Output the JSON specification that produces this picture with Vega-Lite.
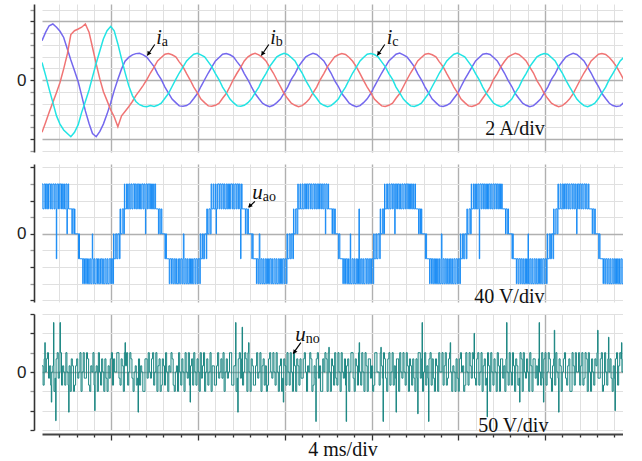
{
"$schema": "https://vega.github.io/schema/vega-lite/v6.json",
"padding": {"left": 16, "top": 0, "right": 0, "bottom": 0},
"background": "white",
"spacing": 12,
"bounds": "flush",
"config": {"view": {"stroke": null}, "axis": {"labelFont": "Liberation Sans", "labelFontSize": 17, "labelColor": "#222", "domainColor": "#333", "tickColor": "#333", "tickCount": 200}},
"datasets": {
"cur": [
{"t":0,"a":1.34,"b":-1.78,"c":0.6},{"t":0.17,"a":1.63,"b":-1.44,"c":0.15},{"t":0.33,"a":1.85,"b":-1.1,"c":-0.31},{"t":0.5,"a":1.91,"b":-0.76,"c":-0.76},{"t":0.67,"a":1.8,"b":-0.42,"c":-1.22},{"t":0.83,"a":1.66,"b":-0.08,"c":-1.5},{"t":1,"a":1.45,"b":0.38,"c":-1.7},{"t":1.17,"a":1.06,"b":0.89,"c":-1.82},{"t":1.33,"a":0.68,"b":1.55,"c":-1.93},{"t":1.5,"a":0.32,"b":1.68,"c":-1.78},{"t":1.67,"a":-0.06,"b":1.74,"c":-1.52},{"t":1.83,"a":-0.53,"b":1.8,"c":-1.1},{"t":2,"a":-1.05,"b":1.91,"c":-0.73},{"t":2.17,"a":-1.48,"b":1.63,"c":-0.34},{"t":2.33,"a":-1.82,"b":1.11,"c":0.11},{"t":2.5,"a":-1.93,"b":0.55,"c":0.57},{"t":2.67,"a":-1.75,"b":0.03,"c":1},{"t":2.83,"a":-1.5,"b":-0.39,"c":1.4},{"t":3,"a":-1.16,"b":-0.7,"c":1.68},{"t":3.17,"a":-0.77,"b":-1.02,"c":1.83},{"t":3.33,"a":-0.36,"b":-1.25,"c":1.68},{"t":3.5,"a":0.03,"b":-1.59,"c":1.23},{"t":3.67,"a":0.38,"b":-1.22,"c":0.72},{"t":3.83,"a":0.64,"b":-1.07,"c":0.26},{"t":4,"a":0.77,"b":-0.91,"c":-0.19},{"t":4.17,"a":0.86,"b":-0.73,"c":-0.53},{"t":4.33,"a":0.9,"b":-0.53,"c":-0.73},{"t":4.5,"a":0.91,"b":-0.36,"c":-0.84},{"t":4.67,"a":0.86,"b":-0.18,"c":-0.89},{"t":4.83,"a":0.78,"b":0.01,"c":-0.91},
{"t":5,"a":0.62,"b":0.24,"c":-0.87},{"t":5.17,"a":0.46,"b":0.44,"c":-0.9},{"t":5.33,"a":0.22,"b":0.65,"c":-0.86},{"t":5.5,"a":0.02,"b":0.77,"c":-0.79},{"t":5.67,"a":-0.24,"b":0.88,"c":-0.62},{"t":5.83,"a":-0.44,"b":0.9,"c":-0.46},{"t":6,"a":-0.65,"b":0.86,"c":-0.22},{"t":6.17,"a":-0.77,"b":0.79,"c":0.02},{"t":6.33,"a":-0.88,"b":0.62,"c":0.24},{"t":6.5,"a":-0.89,"b":0.46,"c":0.44},{"t":6.67,"a":-0.87,"b":0.22,"c":0.65},{"t":6.83,"a":-0.79,"b":0.01,"c":0.77},{"t":7,"a":-0.63,"b":-0.24,"c":0.88},{"t":7.17,"a":-0.46,"b":-0.44,"c":0.91},{"t":7.33,"a":-0.22,"b":-0.65,"c":0.86},{"t":7.5,"a":0.01,"b":-0.77,"c":0.79},{"t":7.67,"a":0.24,"b":-0.88,"c":0.62},{"t":7.83,"a":0.44,"b":-0.89,"c":0.46},{"t":8,"a":0.65,"b":-0.86,"c":0.22},{"t":8.17,"a":0.77,"b":-0.79,"c":0.01},{"t":8.33,"a":0.88,"b":-0.62,"c":-0.24},
{"t":8.5,"a":0.9,"b":-0.46,"c":-0.44},{"t":8.67,"a":0.86,"b":-0.22,"c":-0.65},{"t":8.83,"a":0.79,"b":0.02,"c":-0.77},{"t":9,"a":0.62,"b":0.24,"c":-0.88},{"t":9.17,"a":0.46,"b":0.44,"c":-0.89},{"t":9.33,"a":0.22,"b":0.65,"c":-0.86},{"t":9.5,"a":0.01,"b":0.79,"c":-0.77},{"t":9.67,"a":-0.24,"b":0.87,"c":-0.63},{"t":9.83,"a":-0.46,"b":0.91,"c":-0.44},{"t":10,"a":-0.63,"b":0.86,"c":-0.24},{"t":10.17,"a":-0.79,"b":0.77,"c":0.02},{"t":10.33,"a":-0.86,"b":0.65,"c":0.22},{"t":10.5,"a":-0.91,"b":0.44,"c":0.46},{"t":10.67,"a":-0.86,"b":0.24,"c":0.63},{"t":10.83,"a":-0.77,"b":0.01,"c":0.79},{"t":11,"a":-0.65,"b":-0.22,"c":0.86},{"t":11.17,"a":-0.44,"b":-0.46,"c":0.91},{"t":11.33,"a":-0.24,"b":-0.63,"c":0.87},{"t":11.5,"a":0.02,"b":-0.79,"c":0.77},{"t":11.67,"a":0.22,"b":-0.86,"c":0.65},{"t":11.83,"a":0.46,"b":-0.91,"c":0.44},{"t":12,"a":0.63,"b":-0.87,"c":0.24},{"t":12.17,"a":0.79,"b":-0.77,"c":-0.02},{"t":12.33,"a":0.86,"b":-0.65,"c":-0.22},
{"t":12.5,"a":0.91,"b":-0.44,"c":-0.46},{"t":12.67,"a":0.87,"b":-0.24,"c":-0.62},{"t":12.83,"a":0.77,"b":0.01,"c":-0.79},{"t":13,"a":0.65,"b":0.22,"c":-0.86},{"t":13.17,"a":0.44,"b":0.46,"c":-0.91},{"t":13.33,"a":0.24,"b":0.62,"c":-0.87},{"t":13.5,"a":-0.02,"b":0.79,"c":-0.77},{"t":13.67,"a":-0.22,"b":0.86,"c":-0.65},{"t":13.83,"a":-0.46,"b":0.9,"c":-0.44},{"t":14,"a":-0.62,"b":0.87,"c":-0.24},{"t":14.17,"a":-0.79,"b":0.77,"c":0.01},{"t":14.33,"a":-0.86,"b":0.64,"c":0.24},{"t":14.5,"a":-0.91,"b":0.45,"c":0.44},{"t":14.67,"a":-0.87,"b":0.22,"c":0.65},{"t":14.83,"a":-0.77,"b":-0.01,"c":0.77},{"t":15,"a":-0.64,"b":-0.24,"c":0.88},{"t":15.17,"a":-0.45,"b":-0.44,"c":0.9},{"t":15.33,"a":-0.22,"b":-0.65,"c":0.87},{"t":15.5,"a":0.01,"b":-0.77,"c":0.79},{"t":15.67,"a":0.24,"b":-0.88,"c":0.62},{"t":15.83,"a":0.44,"b":-0.9,"c":0.46},{"t":16,"a":0.65,"b":-0.86,"c":0.22},{"t":16.17,"a":0.77,"b":-0.79,"c":0.02},{"t":16.33,"a":0.88,"b":-0.62,"c":-0.24},
{"t":16.5,"a":0.92,"b":-0.46,"c":-0.44},{"t":16.67,"a":0.86,"b":-0.22,"c":-0.65},{"t":16.83,"a":0.79,"b":0.01,"c":-0.77},{"t":17,"a":0.63,"b":0.24,"c":-0.88},{"t":17.17,"a":0.46,"b":0.44,"c":-0.9},{"t":17.33,"a":0.22,"b":0.65,"c":-0.86},{"t":17.5,"a":0.01,"b":0.77,"c":-0.79},{"t":17.67,"a":-0.24,"b":0.88,"c":-0.62},{"t":17.83,"a":-0.44,"b":0.9,"c":-0.46},{"t":18,"a":-0.65,"b":0.86,"c":-0.22},{"t":18.17,"a":-0.77,"b":0.79,"c":0.01},{"t":18.33,"a":-0.88,"b":0.62,"c":0.24},{"t":18.5,"a":-0.9,"b":0.46,"c":0.44},{"t":18.67,"a":-0.86,"b":0.22,"c":0.65},{"t":18.83,"a":-0.79,"b":0.01,"c":0.77},{"t":19,"a":-0.62,"b":-0.24,"c":0.88},{"t":19.17,"a":-0.46,"b":-0.44,"c":0.92},{"t":19.33,"a":-0.22,"b":-0.65,"c":0.86},{"t":19.5,"a":0.02,"b":-0.77,"c":0.79},{"t":19.67,"a":0.24,"b":-0.88,"c":0.62},{"t":19.83,"a":0.44,"b":-0.9,"c":0.46},{"t":20,"a":0.65,"b":-0.86,"c":0.22},{"t":20.17,"a":0.77,"b":-0.79,"c":0.01},{"t":20.33,"a":0.88,"b":-0.62,"c":-0.24},
{"t":20.5,"a":0.9,"b":-0.44,"c":-0.46},{"t":20.67,"a":0.87,"b":-0.24,"c":-0.63},{"t":20.83,"a":0.77,"b":0.02,"c":-0.79},{"t":21,"a":0.65,"b":0.22,"c":-0.86},{"t":21.17,"a":0.44,"b":0.46,"c":-0.91},{"t":21.33,"a":0.24,"b":0.63,"c":-0.87},{"t":21.5,"a":-0.01,"b":0.79,"c":-0.77},{"t":21.67,"a":-0.22,"b":0.86,"c":-0.65},{"t":21.83,"a":-0.46,"b":0.91,"c":-0.44},{"t":22,"a":-0.63,"b":0.87,"c":-0.24},{"t":22.17,"a":-0.79,"b":0.77,"c":0.02},{"t":22.33,"a":-0.86,"b":0.65,"c":0.22},{"t":22.5,"a":-0.91,"b":0.44,"c":0.46},{"t":22.67,"a":-0.87,"b":0.24,"c":0.63},{"t":22.83,"a":-0.77,"b":-0.02,"c":0.79},{"t":23,"a":-0.65,"b":-0.22,"c":0.86},{"t":23.17,"a":-0.44,"b":-0.46,"c":0.9},{"t":23.33,"a":-0.24,"b":-0.63,"c":0.88},{"t":23.5,"a":0.02,"b":-0.79,"c":0.77},{"t":23.67,"a":0.22,"b":-0.86,"c":0.65},{"t":23.83,"a":0.46,"b":-0.91,"c":0.44},{"t":24,"a":0.63,"b":-0.87,"c":0.24},{"t":24.17,"a":0.79,"b":-0.77,"c":-0.01},{"t":24.33,"a":0.86,"b":-0.65,"c":-0.22},
{"t":24.5,"a":0.91,"b":-0.46,"c":-0.44},{"t":24.67,"a":0.87,"b":-0.22,"c":-0.65},{"t":24.83,"a":0.77,"b":0.01,"c":-0.77},{"t":25,"a":0.65,"b":0.24,"c":-0.87},{"t":25.17,"a":0.44,"b":0.44,"c":-0.91},{"t":25.33,"a":0.24,"b":0.65,"c":-0.86},{"t":25.5,"a":-0.01,"b":0.77,"c":-0.79},{"t":25.67,"a":-0.22,"b":0.88,"c":-0.63},{"t":25.83,"a":-0.46,"b":0.9,"c":-0.44},{"t":26,"a":-0.63,"b":0.87,"c":-0.24},{"t":26.17,"a":-0.79,"b":0.77,"c":0.02},{"t":26.33,"a":-0.87,"b":0.63,"c":0.22},{"t":26.5,"a":-0.9,"b":0.46,"c":0.44},{"t":26.67,"a":-0.88,"b":0.24,"c":0.65},{"t":26.83,"a":-0.77,"b":0.01,"c":0.77}
],
"uao": [
{"t":0,"v":60},{"t":0.04,"v":30},{"t":0.1,"v":60},{"t":0.16,"v":30},{"t":0.2,"v":60},{"t":0.25,"v":30},{"t":0.3,"v":60},{"t":0.37,"v":30},{"t":0.4,"v":60},{"t":0.45,"v":30},{"t":0.5,"v":60},{"t":0.56,"v":30},{"t":0.6,"v":60},{"t":0.65,"v":30},{"t":0.66,"v":-30},{"t":0.68,"v":30},{"t":0.7,"v":60},{"t":0.76,"v":30},{"t":0.8,"v":60},{"t":0.87,"v":30},{"t":0.9,"v":60},{"t":0.95,"v":30},{"t":1,"v":60},{"t":1.04,"v":30},{"t":1.1,"v":60},{"t":1.15,"v":0},{"t":1.17,"v":30},{"t":1.2,"v":60},{"t":1.23,"v":30},{"t":1.38,"v":0},{"t":1.4,"v":30},{"t":1.47,"v":0},{"t":1.5,"v":30},{"t":1.52,"v":0},{"t":1.68,"v":-30},{"t":1.7,"v":0},{"t":1.73,"v":-30},{"t":1.88,"v":-60},{"t":1.9,"v":-30},{"t":1.96,"v":-60},{"t":2,"v":-30},{"t":2.06,"v":-60},{"t":2.1,"v":-30},{"t":2.14,"v":-60},{"t":2.2,"v":-30},{"t":2.25,"v":-60},{"t":2.3,"v":-30},{"t":2.32,"v":0},{"t":2.34,"v":-30},{"t":2.36,"v":-60},{"t":2.4,"v":-30},{"t":2.44,"v":-60},{"t":2.5,"v":-30},{"t":2.56,"v":-60},{"t":2.6,"v":-30},{"t":2.64,"v":-60},{"t":2.7,"v":-30},{"t":2.76,"v":-60},{"t":2.8,"v":-30},{"t":2.83,"v":-60},{"t":2.9,"v":-30},{"t":2.95,"v":-60},{"t":3,"v":-30},{"t":3.04,"v":-60},{"t":3.1,"v":-30},{"t":3.17,"v":-60},{"t":3.2,"v":-30},{"t":3.26,"v":-60},{"t":3.3,"v":0},{"t":3.32,"v":-30},{"t":3.4,"v":0},{"t":3.45,"v":-30},{"t":3.5,"v":0},{"t":3.57,"v":-30},{"t":3.6,"v":30},{"t":3.62,"v":0},{"t":3.7,"v":30},{"t":3.77,"v":0},{"t":3.8,"v":60},{"t":3.82,"v":30},{"t":3.9,"v":60},{"t":3.94,"v":30},
{"t":4,"v":60},{"t":4.05,"v":30},{"t":4.1,"v":60},{"t":4.15,"v":30},{"t":4.2,"v":60},{"t":4.27,"v":30},{"t":4.3,"v":60},{"t":4.35,"v":30},{"t":4.4,"v":60},{"t":4.46,"v":30},{"t":4.5,"v":60},{"t":4.54,"v":30},{"t":4.6,"v":60},{"t":4.66,"v":30},{"t":4.7,"v":60},{"t":4.75,"v":30},{"t":4.77,"v":0},{"t":4.79,"v":30},{"t":4.8,"v":60},{"t":4.86,"v":30},{"t":4.9,"v":60},{"t":4.97,"v":30},{"t":5,"v":60},{"t":5.05,"v":30},{"t":5.1,"v":60},{"t":5.14,"v":30},{"t":5.2,"v":60},{"t":5.24,"v":30},{"t":5.37,"v":0},{"t":5.4,"v":30},{"t":5.45,"v":0},{"t":5.5,"v":30},{"t":5.53,"v":0},{"t":5.67,"v":-30},{"t":5.7,"v":0},{"t":5.74,"v":-30},{"t":5.87,"v":-60},{"t":5.9,"v":-30},{"t":5.97,"v":-60},{"t":6,"v":-30},{"t":6.05,"v":-60},{"t":6.1,"v":-30},{"t":6.15,"v":-60},{"t":6.2,"v":-30},{"t":6.23,"v":-60},{"t":6.3,"v":-30},{"t":6.35,"v":-60},{"t":6.4,"v":-30},{"t":6.46,"v":-60},{"t":6.5,"v":-30},{"t":6.52,"v":0},{"t":6.55,"v":-60},{"t":6.6,"v":-30},{"t":6.65,"v":-60},{"t":6.7,"v":-30},{"t":6.74,"v":-60},{"t":6.8,"v":-30},{"t":6.85,"v":-60},{"t":6.9,"v":-30},{"t":6.94,"v":-60},{"t":7,"v":-30},{"t":7.06,"v":-60},{"t":7.1,"v":-30},{"t":7.16,"v":-60},{"t":7.2,"v":-30},{"t":7.28,"v":-60},{"t":7.3,"v":0},{"t":7.33,"v":-30},{"t":7.4,"v":0},{"t":7.44,"v":-30},{"t":7.5,"v":0},{"t":7.58,"v":-30},{"t":7.6,"v":30},{"t":7.63,"v":0},{"t":7.7,"v":30},{"t":7.76,"v":0},{"t":7.8,"v":60},{"t":7.83,"v":30},{"t":7.9,"v":60},{"t":7.93,"v":30},
{"t":8,"v":60},{"t":8.03,"v":0},{"t":8.05,"v":30},{"t":8.1,"v":60},{"t":8.17,"v":30},{"t":8.2,"v":60},{"t":8.26,"v":30},{"t":8.3,"v":60},{"t":8.36,"v":30},{"t":8.4,"v":60},{"t":8.44,"v":30},{"t":8.5,"v":60},{"t":8.55,"v":30},{"t":8.6,"v":60},{"t":8.65,"v":30},{"t":8.7,"v":60},{"t":8.77,"v":30},{"t":8.8,"v":60},{"t":8.85,"v":30},{"t":8.9,"v":60},{"t":8.96,"v":30},{"t":9,"v":60},{"t":9.06,"v":30},{"t":9.1,"v":60},{"t":9.14,"v":30},{"t":9.16,"v":-30},{"t":9.18,"v":30},{"t":9.2,"v":60},{"t":9.23,"v":30},{"t":9.38,"v":0},{"t":9.4,"v":30},{"t":9.46,"v":0},{"t":9.5,"v":30},{"t":9.52,"v":0},{"t":9.68,"v":-30},{"t":9.7,"v":0},{"t":9.74,"v":-30},{"t":9.89,"v":-60},{"t":9.9,"v":-30},{"t":9.96,"v":-60},{"t":10,"v":-30},{"t":10.02,"v":0},{"t":10.05,"v":-60},{"t":10.1,"v":-30},{"t":10.15,"v":-60},{"t":10.2,"v":-30},{"t":10.24,"v":-60},{"t":10.3,"v":-30},{"t":10.35,"v":-60},{"t":10.4,"v":-30},{"t":10.45,"v":-60},{"t":10.5,"v":-30},{"t":10.56,"v":-60},{"t":10.6,"v":-30},{"t":10.64,"v":-60},{"t":10.7,"v":-30},{"t":10.75,"v":-60},{"t":10.8,"v":-30},{"t":10.84,"v":-60},{"t":10.9,"v":-30},{"t":10.95,"v":-60},{"t":11,"v":-30},{"t":11.05,"v":-60},{"t":11.1,"v":-30},{"t":11.16,"v":-60},{"t":11.2,"v":-30},{"t":11.27,"v":-60},{"t":11.3,"v":0},{"t":11.32,"v":-30},{"t":11.4,"v":0},{"t":11.45,"v":-30},{"t":11.5,"v":0},{"t":11.57,"v":-30},{"t":11.6,"v":30},{"t":11.62,"v":0},{"t":11.7,"v":30},{"t":11.76,"v":0},{"t":11.8,"v":60},{"t":11.82,"v":30},{"t":11.9,"v":60},{"t":11.93,"v":30},
{"t":12,"v":60},{"t":12.04,"v":30},{"t":12.1,"v":60},{"t":12.16,"v":30},{"t":12.2,"v":60},{"t":12.26,"v":30},{"t":12.3,"v":60},{"t":12.37,"v":30},{"t":12.4,"v":60},{"t":12.45,"v":30},{"t":12.5,"v":60},{"t":12.56,"v":30},{"t":12.6,"v":60},{"t":12.65,"v":30},{"t":12.7,"v":60},{"t":12.76,"v":30},{"t":12.8,"v":60},{"t":12.86,"v":30},{"t":12.9,"v":60},{"t":12.95,"v":30},{"t":13,"v":60},{"t":13.05,"v":30},{"t":13.07,"v":0},{"t":13.09,"v":30},{"t":13.1,"v":60},{"t":13.15,"v":30},{"t":13.2,"v":60},{"t":13.22,"v":30},{"t":13.38,"v":0},{"t":13.4,"v":30},{"t":13.46,"v":0},{"t":13.5,"v":30},{"t":13.53,"v":0},{"t":13.67,"v":-30},{"t":13.7,"v":0},{"t":13.74,"v":-30},{"t":13.88,"v":-60},{"t":13.9,"v":-30},{"t":13.96,"v":-60},{"t":14,"v":-30},{"t":14.06,"v":-60},{"t":14.1,"v":-30},{"t":14.14,"v":-60},{"t":14.2,"v":-30},{"t":14.22,"v":0},{"t":14.24,"v":-60},{"t":14.3,"v":-30},{"t":14.35,"v":-60},{"t":14.4,"v":-30},{"t":14.44,"v":-60},{"t":14.5,"v":-30},{"t":14.55,"v":-60},{"t":14.6,"v":-30},{"t":14.62,"v":30},{"t":14.64,"v":-60},{"t":14.7,"v":-30},{"t":14.75,"v":-60},{"t":14.8,"v":-30},{"t":14.84,"v":-60},{"t":14.9,"v":-30},{"t":14.96,"v":-60},{"t":15,"v":-30},{"t":15.05,"v":-60},{"t":15.1,"v":-30},{"t":15.16,"v":-60},{"t":15.2,"v":-30},{"t":15.27,"v":-60},{"t":15.3,"v":0},{"t":15.32,"v":-30},{"t":15.4,"v":0},{"t":15.44,"v":-30},{"t":15.5,"v":0},{"t":15.58,"v":-30},{"t":15.6,"v":30},{"t":15.62,"v":0},{"t":15.7,"v":30},{"t":15.76,"v":0},{"t":15.8,"v":60},{"t":15.82,"v":30},{"t":15.9,"v":60},{"t":15.94,"v":30},
{"t":16,"v":60},{"t":16.05,"v":30},{"t":16.1,"v":60},{"t":16.16,"v":30},{"t":16.2,"v":60},{"t":16.25,"v":30},{"t":16.27,"v":0},{"t":16.29,"v":30},{"t":16.3,"v":60},{"t":16.36,"v":30},{"t":16.4,"v":60},{"t":16.46,"v":30},{"t":16.5,"v":60},{"t":16.54,"v":30},{"t":16.6,"v":60},{"t":16.65,"v":30},{"t":16.7,"v":60},{"t":16.76,"v":30},{"t":16.8,"v":60},{"t":16.87,"v":30},{"t":16.9,"v":60},{"t":16.95,"v":30},{"t":17,"v":60},{"t":17.05,"v":30},{"t":17.1,"v":60},{"t":17.14,"v":30},{"t":17.2,"v":60},{"t":17.23,"v":30},{"t":17.37,"v":0},{"t":17.4,"v":30},{"t":17.46,"v":0},{"t":17.5,"v":30},{"t":17.52,"v":0},{"t":17.68,"v":-30},{"t":17.7,"v":0},{"t":17.74,"v":-30},{"t":17.88,"v":-60},{"t":17.9,"v":-30},{"t":17.97,"v":-60},{"t":18,"v":-30},{"t":18.05,"v":-60},{"t":18.1,"v":-30},{"t":18.15,"v":-60},{"t":18.2,"v":-30},{"t":18.24,"v":-60},{"t":18.3,"v":-30},{"t":18.34,"v":-60},{"t":18.4,"v":-30},{"t":18.42,"v":0},{"t":18.45,"v":-60},{"t":18.5,"v":-30},{"t":18.55,"v":-60},{"t":18.6,"v":-30},{"t":18.65,"v":-60},{"t":18.7,"v":-30},{"t":18.74,"v":-60},{"t":18.8,"v":-30},{"t":18.85,"v":-60},{"t":18.9,"v":-30},{"t":18.94,"v":-60},{"t":19,"v":-30},{"t":19.05,"v":-60},{"t":19.1,"v":-30},{"t":19.16,"v":-60},{"t":19.2,"v":-30},{"t":19.27,"v":-60},{"t":19.3,"v":0},{"t":19.32,"v":-30},{"t":19.4,"v":0},{"t":19.45,"v":-30},{"t":19.5,"v":0},{"t":19.57,"v":-30},{"t":19.6,"v":30},{"t":19.62,"v":0},{"t":19.7,"v":30},{"t":19.76,"v":0},{"t":19.8,"v":60},{"t":19.82,"v":30},{"t":19.9,"v":60},{"t":19.94,"v":30},
{"t":20,"v":60},{"t":20.04,"v":30},{"t":20.1,"v":60},{"t":20.15,"v":30},{"t":20.17,"v":-30},{"t":20.19,"v":30},{"t":20.2,"v":60},{"t":20.26,"v":30},{"t":20.3,"v":60},{"t":20.36,"v":30},{"t":20.4,"v":60},{"t":20.45,"v":30},{"t":20.5,"v":60},{"t":20.55,"v":30},{"t":20.6,"v":60},{"t":20.66,"v":30},{"t":20.7,"v":60},{"t":20.75,"v":30},{"t":20.8,"v":60},{"t":20.86,"v":30},{"t":20.9,"v":60},{"t":20.96,"v":30},{"t":21,"v":60},{"t":21.05,"v":30},{"t":21.1,"v":60},{"t":21.15,"v":30},{"t":21.2,"v":60},{"t":21.23,"v":30},{"t":21.38,"v":0},{"t":21.4,"v":30},{"t":21.46,"v":0},{"t":21.5,"v":30},{"t":21.52,"v":0},{"t":21.68,"v":-30},{"t":21.7,"v":0},{"t":21.74,"v":-30},{"t":21.88,"v":-60},{"t":21.9,"v":-30},{"t":21.96,"v":-60},{"t":22,"v":-30},{"t":22.06,"v":-60},{"t":22.1,"v":-30},{"t":22.15,"v":-60},{"t":22.2,"v":-30},{"t":22.24,"v":-60},{"t":22.3,"v":-30},{"t":22.35,"v":-60},{"t":22.4,"v":-30},{"t":22.42,"v":0},{"t":22.44,"v":-60},{"t":22.5,"v":-30},{"t":22.55,"v":-60},{"t":22.6,"v":-30},{"t":22.64,"v":-60},{"t":22.7,"v":-30},{"t":22.75,"v":-60},{"t":22.8,"v":-30},{"t":22.84,"v":-60},{"t":22.9,"v":-30},{"t":22.95,"v":-60},{"t":23,"v":-30},{"t":23.05,"v":-60},{"t":23.1,"v":-30},{"t":23.16,"v":-60},{"t":23.2,"v":-30},{"t":23.27,"v":-60},{"t":23.3,"v":0},{"t":23.32,"v":-30},{"t":23.4,"v":0},{"t":23.45,"v":-30},{"t":23.5,"v":0},{"t":23.57,"v":-30},{"t":23.6,"v":30},{"t":23.62,"v":0},{"t":23.7,"v":30},{"t":23.76,"v":0},{"t":23.8,"v":60},{"t":23.82,"v":30},{"t":23.9,"v":60},{"t":23.94,"v":30},
{"t":24,"v":60},{"t":24.05,"v":30},{"t":24.1,"v":60},{"t":24.16,"v":30},{"t":24.2,"v":60},{"t":24.26,"v":30},{"t":24.3,"v":60},{"t":24.35,"v":30},{"t":24.4,"v":60},{"t":24.46,"v":30},{"t":24.5,"v":60},{"t":24.55,"v":30},{"t":24.6,"v":60},{"t":24.64,"v":30},{"t":24.66,"v":0},{"t":24.68,"v":30},{"t":24.7,"v":60},{"t":24.76,"v":30},{"t":24.8,"v":60},{"t":24.86,"v":30},{"t":24.9,"v":60},{"t":24.95,"v":30},{"t":25,"v":60},{"t":25.06,"v":30},{"t":25.1,"v":60},{"t":25.14,"v":30},{"t":25.2,"v":60},{"t":25.23,"v":30},{"t":25.38,"v":0},{"t":25.4,"v":30},{"t":25.46,"v":0},{"t":25.5,"v":30},{"t":25.52,"v":0},{"t":25.68,"v":-30},{"t":25.7,"v":0},{"t":25.74,"v":-30},{"t":25.88,"v":-60},{"t":25.9,"v":-30},{"t":25.96,"v":-60},{"t":26,"v":-30},{"t":26.06,"v":-60},{"t":26.1,"v":-30},{"t":26.15,"v":-60},{"t":26.2,"v":-30},{"t":26.24,"v":-60},{"t":26.3,"v":-30},{"t":26.35,"v":-60},{"t":26.4,"v":-30},{"t":26.45,"v":-60},{"t":26.5,"v":-30},{"t":26.55,"v":-60},{"t":26.6,"v":-30},{"t":26.64,"v":-60},{"t":26.7,"v":-30},{"t":26.75,"v":-60},{"t":26.8,"v":-30}
],
"uno": [
{"t":0,"v":8},{"t":0.05,"v":-17},{"t":0.1,"v":17},{"t":0.13,"v":38},{"t":0.15,"v":0},{"t":0.2,"v":17},{"t":0.25,"v":25},{"t":0.3,"v":-8},{"t":0.35,"v":8},{"t":0.4,"v":-17},{"t":0.43,"v":-39},{"t":0.45,"v":0},{"t":0.5,"v":8},{"t":0.53,"v":64},{"t":0.55,"v":-25},{"t":0.6,"v":-8},{"t":0.63,"v":-63},{"t":0.65,"v":17},{"t":0.7,"v":25},{"t":0.75,"v":-8},{"t":0.8,"v":0},{"t":0.83,"v":64},{"t":0.85,"v":25},{"t":0.9,"v":-17},{"t":0.95,"v":8},
{"t":1,"v":0},{"t":1.05,"v":-17},{"t":1.1,"v":25},{"t":1.15,"v":0},{"t":1.2,"v":-17},{"t":1.23,"v":-52},{"t":1.25,"v":8},{"t":1.3,"v":-25},{"t":1.35,"v":17},{"t":1.4,"v":8},{"t":1.45,"v":-25},{"t":1.5,"v":-17},{"t":1.55,"v":8},{"t":1.6,"v":17},{"t":1.65,"v":-8},{"t":1.7,"v":0},{"t":1.75,"v":25},{"t":1.8,"v":-25},{"t":1.85,"v":0},{"t":1.9,"v":25},{"t":1.95,"v":-8},
{"t":2,"v":-8},{"t":2.05,"v":25},{"t":2.1,"v":17},{"t":2.15,"v":-17},{"t":2.2,"v":-25},{"t":2.25,"v":8},{"t":2.3,"v":0},{"t":2.35,"v":25},{"t":2.4,"v":-17},{"t":2.43,"v":-50},{"t":2.45,"v":0},{"t":2.5,"v":8},{"t":2.55,"v":-25},{"t":2.6,"v":25},{"t":2.65,"v":0},{"t":2.7,"v":-17},{"t":2.75,"v":17},{"t":2.8,"v":0},{"t":2.85,"v":-25},{"t":2.9,"v":17},{"t":2.95,"v":-8},
{"t":3,"v":-25},{"t":3.05,"v":8},{"t":3.1,"v":-8},{"t":3.15,"v":17},{"t":3.2,"v":25},{"t":3.25,"v":-17},{"t":3.3,"v":17},{"t":3.35,"v":0},{"t":3.4,"v":0},{"t":3.45,"v":25},{"t":3.5,"v":25},{"t":3.55,"v":-8},{"t":3.6,"v":-17},{"t":3.65,"v":17},{"t":3.7,"v":8},{"t":3.75,"v":-25},{"t":3.8,"v":25},{"t":3.83,"v":38},{"t":3.85,"v":8},{"t":3.9,"v":25},{"t":3.95,"v":-17},
{"t":4,"v":0},{"t":4.05,"v":25},{"t":4.1,"v":17},{"t":4.15,"v":-8},{"t":4.2,"v":-25},{"t":4.25,"v":0},{"t":4.3,"v":8},{"t":4.35,"v":-17},{"t":4.4,"v":-8},{"t":4.43,"v":-52},{"t":4.45,"v":17},{"t":4.5,"v":-17},{"t":4.55,"v":8},{"t":4.6,"v":0},{"t":4.65,"v":-25},{"t":4.7,"v":-25},{"t":4.75,"v":17},{"t":4.8,"v":17},{"t":4.85,"v":-8},{"t":4.9,"v":25},{"t":4.95,"v":0},
{"t":5,"v":-8},{"t":5.05,"v":17},{"t":5.1,"v":25},{"t":5.15,"v":-17},{"t":5.2,"v":0},{"t":5.25,"v":25},{"t":5.3,"v":-25},{"t":5.35,"v":8},{"t":5.4,"v":17},{"t":5.45,"v":-25},{"t":5.5,"v":-17},{"t":5.55,"v":17},{"t":5.6,"v":8},{"t":5.65,"v":-17},{"t":5.7,"v":25},{"t":5.75,"v":0},{"t":5.8,"v":-25},{"t":5.85,"v":8},{"t":5.9,"v":0},{"t":5.95,"v":25},
{"t":6,"v":17},{"t":6.05,"v":-17},{"t":6.1,"v":-25},{"t":6.15,"v":0},{"t":6.2,"v":8},{"t":6.25,"v":-25},{"t":6.3,"v":25},{"t":6.35,"v":0},{"t":6.4,"v":-17},{"t":6.45,"v":17},{"t":6.5,"v":0},{"t":6.55,"v":-25},{"t":6.6,"v":25},{"t":6.65,"v":0},{"t":6.7,"v":-8},{"t":6.75,"v":25},{"t":6.8,"v":-17},{"t":6.83,"v":-39},{"t":6.85,"v":8},{"t":6.9,"v":17},{"t":6.95,"v":-17},
{"t":7,"v":25},{"t":7.05,"v":0},{"t":7.1,"v":-17},{"t":7.15,"v":17},{"t":7.2,"v":0},{"t":7.25,"v":-25},{"t":7.3,"v":25},{"t":7.35,"v":-8},{"t":7.4,"v":8},{"t":7.45,"v":25},{"t":7.5,"v":-25},{"t":7.55,"v":0},{"t":7.6,"v":17},{"t":7.65,"v":-17},{"t":7.7,"v":0},{"t":7.75,"v":25},{"t":7.8,"v":-25},{"t":7.85,"v":8},{"t":7.9,"v":8},{"t":7.95,"v":-17},
{"t":8,"v":-17},{"t":8.05,"v":8},{"t":8.1,"v":25},{"t":8.15,"v":-8},{"t":8.2,"v":0},{"t":8.25,"v":17},{"t":8.3,"v":-8},{"t":8.35,"v":25},{"t":8.4,"v":-25},{"t":8.45,"v":0},{"t":8.5,"v":17},{"t":8.55,"v":-8},{"t":8.6,"v":0},{"t":8.65,"v":25},{"t":8.7,"v":25},{"t":8.75,"v":-17},{"t":8.8,"v":-17},{"t":8.85,"v":8},{"t":8.9,"v":8},{"t":8.93,"v":64},{"t":8.95,"v":-25},
{"t":9,"v":-8},{"t":9.03,"v":-52},{"t":9.05,"v":17},{"t":9.1,"v":25},{"t":9.15,"v":-8},{"t":9.2,"v":17},{"t":9.23,"v":58},{"t":9.25,"v":-17},{"t":9.3,"v":0},{"t":9.35,"v":25},{"t":9.4,"v":17},{"t":9.45,"v":-25},{"t":9.5,"v":25},{"t":9.53,"v":38},{"t":9.55,"v":0},{"t":9.6,"v":-25},{"t":9.65,"v":17},{"t":9.7,"v":8},{"t":9.75,"v":-17},{"t":9.8,"v":-17},{"t":9.85,"v":8},{"t":9.9,"v":25},{"t":9.95,"v":-8},
{"t":10,"v":0},{"t":10.05,"v":25},{"t":10.1,"v":-25},{"t":10.15,"v":8},{"t":10.2,"v":17},{"t":10.25,"v":-17},{"t":10.3,"v":8},{"t":10.35,"v":-25},{"t":10.4,"v":-17},{"t":10.45,"v":17},{"t":10.5,"v":25},{"t":10.55,"v":0},{"t":10.6,"v":-8},{"t":10.65,"v":25},{"t":10.7,"v":0},{"t":10.75,"v":-17},{"t":10.8,"v":25},{"t":10.85,"v":0},{"t":10.9,"v":-25},{"t":10.95,"v":8},
{"t":11,"v":17},{"t":11.05,"v":-25},{"t":11.1,"v":-8},{"t":11.13,"v":-39},{"t":11.15,"v":17},{"t":11.2,"v":8},{"t":11.25,"v":-17},{"t":11.3,"v":25},{"t":11.35,"v":0},{"t":11.4,"v":-17},{"t":11.45,"v":25},{"t":11.5,"v":0},{"t":11.55,"v":-25},{"t":11.6,"v":25},{"t":11.65,"v":8},{"t":11.7,"v":-25},{"t":11.75,"v":17},{"t":11.8,"v":8},{"t":11.85,"v":-17},{"t":11.9,"v":17},{"t":11.95,"v":-8},
{"t":12,"v":-8},{"t":12.05,"v":17},{"t":12.1,"v":25},{"t":12.15,"v":0},{"t":12.2,"v":-25},{"t":12.25,"v":8},{"t":12.3,"v":0},{"t":12.35,"v":25},{"t":12.4,"v":17},{"t":12.45,"v":-25},{"t":12.5,"v":-17},{"t":12.55,"v":8},{"t":12.6,"v":-8},{"t":12.63,"v":-64},{"t":12.65,"v":17},{"t":12.7,"v":25},{"t":12.75,"v":-8},{"t":12.8,"v":8},{"t":12.85,"v":-25},{"t":12.9,"v":-25},{"t":12.95,"v":17},
{"t":13,"v":0},{"t":13.05,"v":25},{"t":13.1,"v":17},{"t":13.15,"v":-25},{"t":13.2,"v":25},{"t":13.23,"v":32},{"t":13.25,"v":0},{"t":13.3,"v":-25},{"t":13.35,"v":17},{"t":13.4,"v":8},{"t":13.45,"v":-17},{"t":13.5,"v":25},{"t":13.55,"v":-8},{"t":13.6,"v":-17},{"t":13.65,"v":25},{"t":13.7,"v":0},{"t":13.75,"v":-25},{"t":13.8,"v":25},{"t":13.85,"v":0},{"t":13.9,"v":-8},{"t":13.95,"v":17},
{"t":14,"v":-17},{"t":14.03,"v":-64},{"t":14.05,"v":8},{"t":14.1,"v":17},{"t":14.15,"v":-25},{"t":14.2,"v":0},{"t":14.25,"v":25},{"t":14.3,"v":25},{"t":14.35,"v":-8},{"t":14.4,"v":-25},{"t":14.45,"v":17},{"t":14.5,"v":8},{"t":14.55,"v":-17},{"t":14.6,"v":25},{"t":14.63,"v":38},{"t":14.65,"v":0},{"t":14.7,"v":-17},{"t":14.75,"v":25},{"t":14.8,"v":0},{"t":14.85,"v":-25},{"t":14.9,"v":25},{"t":14.95,"v":8},
{"t":15,"v":-25},{"t":15.05,"v":17},{"t":15.1,"v":17},{"t":15.15,"v":-8},{"t":15.2,"v":8},{"t":15.25,"v":-25},{"t":15.3,"v":-17},{"t":15.35,"v":25},{"t":15.4,"v":25},{"t":15.45,"v":0},{"t":15.5,"v":0},{"t":15.55,"v":-17},{"t":15.6,"v":25},{"t":15.63,"v":32},{"t":15.65,"v":8},{"t":15.7,"v":-8},{"t":15.73,"v":-64},{"t":15.75,"v":25},{"t":15.8,"v":17},{"t":15.85,"v":-8},{"t":15.9,"v":-25},{"t":15.95,"v":17},
{"t":16,"v":25},{"t":16.05,"v":-17},{"t":16.1,"v":0},{"t":16.15,"v":25},{"t":16.2,"v":-17},{"t":16.25,"v":8},{"t":16.3,"v":-8},{"t":16.33,"v":-52},{"t":16.35,"v":17},{"t":16.4,"v":17},{"t":16.45,"v":-25},{"t":16.5,"v":25},{"t":16.55,"v":0},{"t":16.6,"v":-8},{"t":16.65,"v":25},{"t":16.7,"v":0},{"t":16.75,"v":-17},{"t":16.8,"v":25},{"t":16.85,"v":8},{"t":16.9,"v":-25},{"t":16.95,"v":17},
{"t":17,"v":8},{"t":17.05,"v":-17},{"t":17.1,"v":17},{"t":17.15,"v":-8},{"t":17.2,"v":-25},{"t":17.25,"v":17},{"t":17.3,"v":-8},{"t":17.33,"v":-54},{"t":17.35,"v":25},{"t":17.4,"v":25},{"t":17.45,"v":-8},{"t":17.5,"v":17},{"t":17.53,"v":64},{"t":17.55,"v":-25},{"t":17.6,"v":0},{"t":17.65,"v":25},{"t":17.7,"v":-17},{"t":17.75,"v":8},{"t":17.8,"v":-8},{"t":17.83,"v":-64},{"t":17.85,"v":17},{"t":17.9,"v":25},{"t":17.95,"v":-17},
{"t":18,"v":17},{"t":18.05,"v":-8},{"t":18.1,"v":-25},{"t":18.15,"v":17},{"t":18.2,"v":8},{"t":18.25,"v":-25},{"t":18.3,"v":25},{"t":18.35,"v":0},{"t":18.4,"v":0},{"t":18.45,"v":25},{"t":18.5,"v":-17},{"t":18.55,"v":8},{"t":18.6,"v":25},{"t":18.65,"v":-17},{"t":18.7,"v":-8},{"t":18.75,"v":17},{"t":18.8,"v":25},{"t":18.83,"v":38},{"t":18.85,"v":0},{"t":18.9,"v":-25},{"t":18.95,"v":8},
{"t":19,"v":0},{"t":19.05,"v":-25},{"t":19.1,"v":17},{"t":19.15,"v":-8},{"t":19.2,"v":-25},{"t":19.25,"v":17},{"t":19.3,"v":25},{"t":19.35,"v":0},{"t":19.4,"v":8},{"t":19.45,"v":-25},{"t":19.5,"v":-17},{"t":19.55,"v":25},{"t":19.6,"v":0},{"t":19.65,"v":-17},{"t":19.7,"v":25},{"t":19.75,"v":8},{"t":19.8,"v":-8},{"t":19.85,"v":25},{"t":19.9,"v":17},{"t":19.93,"v":50},{"t":19.95,"v":-8},
{"t":20,"v":-17},{"t":20.05,"v":17},{"t":20.1,"v":25},{"t":20.15,"v":-17},{"t":20.2,"v":0},{"t":20.25,"v":25},{"t":20.3,"v":-25},{"t":20.35,"v":8},{"t":20.4,"v":17},{"t":20.45,"v":-17},{"t":20.5,"v":-8},{"t":20.53,"v":-58},{"t":20.55,"v":25},{"t":20.6,"v":8},{"t":20.65,"v":-25},{"t":20.7,"v":25},{"t":20.75,"v":0},{"t":20.8,"v":-17},{"t":20.85,"v":17},{"t":20.9,"v":0},{"t":20.95,"v":-25},
{"t":21,"v":25},{"t":21.05,"v":8},{"t":21.1,"v":-25},{"t":21.15,"v":17},{"t":21.2,"v":17},{"t":21.25,"v":-8},{"t":21.3,"v":8},{"t":21.35,"v":-25},{"t":21.4,"v":17},{"t":21.43,"v":64},{"t":21.45,"v":0},{"t":21.5,"v":-17},{"t":21.55,"v":25},{"t":21.6,"v":0},{"t":21.65,"v":-17},{"t":21.7,"v":25},{"t":21.75,"v":8},{"t":21.8,"v":-25},{"t":21.85,"v":17},{"t":21.9,"v":8},{"t":21.95,"v":-17},
{"t":22,"v":-8},{"t":22.03,"v":-39},{"t":22.05,"v":25},{"t":22.1,"v":17},{"t":22.15,"v":-25},{"t":22.2,"v":25},{"t":22.25,"v":0},{"t":22.3,"v":-8},{"t":22.35,"v":17},{"t":22.4,"v":0},{"t":22.45,"v":-25},{"t":22.5,"v":25},{"t":22.55,"v":8},{"t":22.6,"v":-25},{"t":22.65,"v":17},{"t":22.7,"v":17},{"t":22.75,"v":-8},{"t":22.8,"v":8},{"t":22.85,"v":-17},{"t":22.9,"v":17},{"t":22.93,"v":64},{"t":22.95,"v":0},
{"t":23,"v":-17},{"t":23.05,"v":25},{"t":23.1,"v":-8},{"t":23.13,"v":-39},{"t":23.15,"v":17},{"t":23.2,"v":25},{"t":23.25,"v":-17},{"t":23.3,"v":0},{"t":23.35,"v":25},{"t":23.4,"v":17},{"t":23.45,"v":-8},{"t":23.5,"v":-25},{"t":23.55,"v":8},{"t":23.6,"v":17},{"t":23.63,"v":54},{"t":23.65,"v":-17},{"t":23.7,"v":25},{"t":23.75,"v":0},{"t":23.8,"v":-8},{"t":23.83,"v":-52},{"t":23.85,"v":17},{"t":23.9,"v":8},{"t":23.95,"v":-25},
{"t":24,"v":0},{"t":24.05,"v":17},{"t":24.1,"v":25},{"t":24.15,"v":-8},{"t":24.2,"v":-17},{"t":24.25,"v":8},{"t":24.3,"v":17},{"t":24.35,"v":-25},{"t":24.4,"v":-25},{"t":24.45,"v":25},{"t":24.5,"v":8},{"t":24.55,"v":-17},{"t":24.6,"v":25},{"t":24.65,"v":0},{"t":24.7,"v":0},{"t":24.75,"v":25},{"t":24.8,"v":-17},{"t":24.85,"v":8},{"t":24.9,"v":25},{"t":24.95,"v":-17},
{"t":25,"v":-8},{"t":25.05,"v":25},{"t":25.1,"v":17},{"t":25.15,"v":-25},{"t":25.2,"v":25},{"t":25.25,"v":0},{"t":25.3,"v":-25},{"t":25.35,"v":17},{"t":25.4,"v":0},{"t":25.45,"v":-17},{"t":25.5,"v":17},{"t":25.55,"v":8},{"t":25.6,"v":25},{"t":25.63,"v":54},{"t":25.65,"v":-8},{"t":25.7,"v":-8},{"t":25.75,"v":17},{"t":25.8,"v":25},{"t":25.85,"v":-25},{"t":25.9,"v":-17},{"t":25.95,"v":25},
{"t":26,"v":0},{"t":26.05,"v":-17},{"t":26.1,"v":17},{"t":26.13,"v":45},{"t":26.15,"v":0},{"t":26.2,"v":17},{"t":26.25,"v":-8},{"t":26.3,"v":-25},{"t":26.35,"v":8},{"t":26.4,"v":-8},{"t":26.43,"v":-50},{"t":26.45,"v":17},{"t":26.5,"v":25},{"t":26.55,"v":-17},{"t":26.6,"v":8},{"t":26.65,"v":25},{"t":26.7,"v":17},{"t":26.73,"v":38},{"t":26.75,"v":0},{"t":26.8,"v":17}
]
},
"vconcat": [
{
"width": 581, "height": 148,
"layer": [
{"data": {"name": "cur"}, "transform": [{"fold": ["a","b","c"], "as": ["ph","i"]}],
 "mark": {"type": "line", "strokeWidth": 1.5, "clip": true},
 "encoding": {
  "x": {"field": "t", "type": "quantitative", "scale": {"domain": [0, 26.8], "nice": false, "zero": false},
        "axis": {"values": [0.8,1.6,2.4,3.2,4,4.8,5.6,6.4,7.2,8,8.8,9.6,10.4,11.2,12,12.8,13.6,14.4,15.2,16,16.8,17.6,18.4,19.2,20,20.8,21.6,22.4,23.2,24,24.8,25.6,26.4], "tickCount": 200, "grid": true,
                 "gridColor": {"condition": {"test": "indexof([3.2,7.2,11.2,15.2,19.2,23.2], datum.value) >= 0", "value": "#b0b0b0"}, "value": "#e0e0e0"},
                 "gridWidth": {"condition": {"test": "indexof([3.2,7.2,11.2,15.2,19.2,23.2], datum.value) >= 0", "value": 1.4}, "value": 1},
                 "ticks": false, "labels": false, "domain": false, "title": null}},
  "y": {"field": "i", "type": "quantitative", "scale": {"domain": [-2.45, 2.59], "nice": false, "zero": false},
        "axis": {"values": [-2.4,-2,-1.6,-1.2,-0.8,-0.4,0,0.4,0.8,1.2,1.6,2,2.4], "tickCount": 200, "grid": true,
                 "gridColor": {"condition": {"test": "abs(datum.value) == 2 || datum.value == 0", "value": "#b0b0b0"}, "value": "#e0e0e0"},
                 "gridWidth": {"condition": {"test": "abs(datum.value) == 2 || datum.value == 0", "value": 1.4}, "value": 1},
                 "tickOpacity": {"condition": {"test": "abs(datum.value) == 2 || datum.value == 0", "value": 1}, "value": 0.5},
                 "offset": 8, "tickSize": 4, "tickWidth": 1.3, "domainWidth": 1.6, "labelPadding": 4,
                 "labelExpr": "datum.value == 0 ? '0' : ''", "labelOverlap": false, "title": null}},
  "color": {"field": "ph", "type": "nominal", "scale": {"domain": ["a","b","c"], "range": ["#7468ee","#f07474","#22e4e4"]}, "legend": null}
 }},
{"data": {"values": [{"t":5.2,"v":1.21,"t2":4.86,"v2":0.835},{"t":10.46,"v":1.21,"t2":10.12,"v2":0.835},{"t":15.81,"v":1.21,"t2":15.47,"v2":0.835}]},
 "mark": {"type": "rule", "color": "#000", "strokeWidth": 1.2},
 "encoding": {"x": {"field": "t", "type": "quantitative"}, "y": {"field": "v", "type": "quantitative"}, "x2": {"field": "t2"}, "y2": {"field": "v2"}}},
{"data": {"values": [{"t":4.91,"v":0.893},{"t":10.17,"v":0.893},{"t":15.52,"v":0.893}]},
 "mark": {"type": "point", "shape": "triangle-up", "filled": true, "color": "#000", "size": 22, "angle": 213, "opacity": 1},
 "encoding": {"x": {"field": "t", "type": "quantitative"}, "y": {"field": "v", "type": "quantitative"}}},
{"data": {"values": [{"t":5.27,"v":1.24,"m":"i","s":"a"},{"t":10.53,"v":1.24,"m":"i","s":"b"},{"t":15.9,"v":1.24,"m":"i","s":"c"}]},
 "layer": [
  {"mark": {"type": "text", "font": "Liberation Serif", "fontSize": 20, "fontStyle": "italic", "align": "left", "baseline": "alphabetic", "color": "#111"},
   "encoding": {"x": {"field": "t", "type": "quantitative"}, "y": {"field": "v", "type": "quantitative"}, "text": {"field": "m"}}},
  {"mark": {"type": "text", "font": "Liberation Serif", "fontSize": 14, "align": "left", "baseline": "alphabetic", "color": "#111", "dx": 5.5, "dy": 2},
   "encoding": {"x": {"field": "t", "type": "quantitative"}, "y": {"field": "v", "type": "quantitative"}, "text": {"field": "s"}}}
 ]},
{"data": {"values": [{"t":20.45,"v":-1.87,"s":"2 A/div"}]},
 "mark": {"type": "text", "font": "Liberation Serif", "fontSize": 20, "align": "left", "baseline": "alphabetic", "color": "#111"},
 "encoding": {"x": {"field": "t", "type": "quantitative"}, "y": {"field": "v", "type": "quantitative"}, "text": {"field": "s"}}}
]
},
{
"width": 581, "height": 138,
"layer": [
{"data": {"name": "uao"},
 "mark": {"type": "line", "strokeWidth": 1, "interpolate": "step-after", "color": "#1a8cf5", "clip": true},
 "encoding": {
  "x": {"field": "t", "type": "quantitative", "scale": {"domain": [0, 26.8], "nice": false, "zero": false},
        "axis": {"values": [0.8,1.6,2.4,3.2,4,4.8,5.6,6.4,7.2,8,8.8,9.6,10.4,11.2,12,12.8,13.6,14.4,15.2,16,16.8,17.6,18.4,19.2,20,20.8,21.6,22.4,23.2,24,24.8,25.6,26.4], "tickCount": 200, "grid": true,
                 "gridColor": {"condition": {"test": "indexof([3.2,7.2,11.2,15.2,19.2,23.2], datum.value) >= 0", "value": "#b0b0b0"}, "value": "#e0e0e0"},
                 "gridWidth": {"condition": {"test": "indexof([3.2,7.2,11.2,15.2,19.2,23.2], datum.value) >= 0", "value": 1.4}, "value": 1},
                 "ticks": false, "labels": false, "domain": false, "title": null}},
  "y": {"field": "v", "type": "quantitative", "scale": {"domain": [-82, 84], "nice": false, "zero": false},
        "axis": {"values": [-80,-60,-40,-20,0,20,40,60,80], "tickCount": 200, "grid": true,
                 "gridColor": {"condition": {"test": "datum.value == 0", "value": "#b0b0b0"}, "value": "#e0e0e0"},
                 "gridWidth": {"condition": {"test": "datum.value == 0", "value": 1.4}, "value": 1},
                 "tickOpacity": {"condition": {"test": "abs(datum.value) == 80 || abs(datum.value) == 40 || datum.value == 0", "value": 1}, "value": 0.5},
                 "offset": 8, "tickSize": 4, "tickWidth": 1.3, "domainWidth": 1.6, "labelPadding": 4,
                 "labelExpr": "datum.value == 0 ? '0' : ''", "labelOverlap": false, "title": null}}
 }},
{"data": {"values": [{"t":9.82,"v":39,"t2":9.54,"v2":32}]},
 "mark": {"type": "rule", "color": "#000", "strokeWidth": 1.2},
 "encoding": {"x": {"field": "t", "type": "quantitative"}, "y": {"field": "v", "type": "quantitative"}, "x2": {"field": "t2"}, "y2": {"field": "v2"}}},
{"data": {"values": [{"t":9.58,"v":33.5}]},
 "mark": {"type": "point", "shape": "triangle-up", "filled": true, "color": "#000", "size": 22, "angle": 225, "opacity": 1},
 "encoding": {"x": {"field": "t", "type": "quantitative"}, "y": {"field": "v", "type": "quantitative"}}},
{"data": {"values": [{"t":9.7,"v":42,"m":"u","s":"ao"}]},
 "layer": [
  {"mark": {"type": "text", "font": "Liberation Serif", "fontSize": 21, "fontStyle": "italic", "align": "left", "baseline": "alphabetic", "color": "#111"},
   "encoding": {"x": {"field": "t", "type": "quantitative"}, "y": {"field": "v", "type": "quantitative"}, "text": {"field": "m"}}},
  {"mark": {"type": "text", "font": "Liberation Serif", "fontSize": 14, "align": "left", "baseline": "alphabetic", "color": "#111", "dx": 10.5, "dy": 2},
   "encoding": {"x": {"field": "t", "type": "quantitative"}, "y": {"field": "v", "type": "quantitative"}, "text": {"field": "s"}}}
 ]},
{"data": {"values": [{"t":19.94,"v":-83,"s":"40 V/div"}]},
 "mark": {"type": "text", "font": "Liberation Serif", "fontSize": 20, "align": "left", "baseline": "alphabetic", "color": "#111"},
 "encoding": {"x": {"field": "t", "type": "quantitative"}, "y": {"field": "v", "type": "quantitative"}, "text": {"field": "s"}}}
]
},
{
"width": 581, "height": 116,
"layer": [
{"data": {"name": "uno"},
 "mark": {"type": "line", "strokeWidth": 1, "interpolate": "step-after", "color": "#1b8682", "clip": true},
 "encoding": {
  "x": {"field": "t", "type": "quantitative", "scale": {"domain": [0, 26.8], "nice": false, "zero": false},
        "axis": {"values": [0.8,1.6,2.4,3.2,4,4.8,5.6,6.4,7.2,8,8.8,9.6,10.4,11.2,12,12.8,13.6,14.4,15.2,16,16.8,17.6,18.4,19.2,20,20.8,21.6,22.4,23.2,24,24.8,25.6,26.4], "tickCount": 200, "grid": true,
                 "gridColor": {"condition": {"test": "indexof([3.2,7.2,11.2,15.2,19.2,23.2], datum.value) >= 0", "value": "#b0b0b0"}, "value": "#e0e0e0"},
                 "gridWidth": {"condition": {"test": "indexof([3.2,7.2,11.2,15.2,19.2,23.2], datum.value) >= 0", "value": 1.4}, "value": 1},
                 "ticks": true,
                 "tickSize": {"condition": {"test": "indexof([3.2,7.2,11.2,15.2,19.2,23.2], datum.value) >= 0", "value": 6}, "value": 3},
                 "tickWidth": 1.3, "tickColor": "#333",
                 "labels": false, "domain": true, "domainColor": "#444", "domainWidth": 2, "offset": 4,
                 "title": "4 ms/div", "titleFont": "Liberation Serif", "titleFontSize": 20, "titleFontWeight": "normal", "titleColor": "#111",
                 "titleX": 300.5, "titleY": 21.5, "titleBaseline": "alphabetic", "titleAlign": "center"}},
  "y": {"field": "v", "type": "quantitative", "scale": {"domain": [-75, 75], "nice": false, "zero": false},
        "axis": {"values": [-75,-50,-25,0,25,50,75], "tickCount": 200, "grid": true,
                 "gridColor": {"condition": {"test": "datum.value == 0", "value": "#b0b0b0"}, "value": "#e0e0e0"},
                 "gridWidth": {"condition": {"test": "datum.value == 0", "value": 1.4}, "value": 1},
                 "tickOpacity": {"condition": {"test": "abs(datum.value) == 75 || abs(datum.value) == 50 || datum.value == 0", "value": 1}, "value": 0.5},
                 "offset": 8, "tickSize": 4, "tickWidth": 1.3, "domainWidth": 1.6, "labelPadding": 4,
                 "labelExpr": "datum.value == 0 ? '0' : ''", "labelOverlap": false, "title": null}}
 }},
{"data": {"values": [{"t":11.94,"v":38,"t2":11.59,"v2":24}]},
 "mark": {"type": "rule", "color": "#000", "strokeWidth": 1.2},
 "encoding": {"x": {"field": "t", "type": "quantitative"}, "y": {"field": "v", "type": "quantitative"}, "x2": {"field": "t2"}, "y2": {"field": "v2"}}},
{"data": {"values": [{"t":11.64,"v":25.6}]},
 "mark": {"type": "point", "shape": "triangle-up", "filled": true, "color": "#000", "size": 22, "angle": 214, "opacity": 1},
 "encoding": {"x": {"field": "t", "type": "quantitative"}, "y": {"field": "v", "type": "quantitative"}}},
{"data": {"values": [{"t":11.68,"v":40,"m":"u","s":"no"}]},
 "layer": [
  {"mark": {"type": "text", "font": "Liberation Serif", "fontSize": 21, "fontStyle": "italic", "align": "left", "baseline": "alphabetic", "color": "#111"},
   "encoding": {"x": {"field": "t", "type": "quantitative"}, "y": {"field": "v", "type": "quantitative"}, "text": {"field": "m"}}},
  {"mark": {"type": "text", "font": "Liberation Serif", "fontSize": 14, "align": "left", "baseline": "alphabetic", "color": "#111", "dx": 10.5, "dy": 2},
   "encoding": {"x": {"field": "t", "type": "quantitative"}, "y": {"field": "v", "type": "quantitative"}, "text": {"field": "s"}}}
 ]},
{"data": {"values": [{"t":20.12,"v":-77,"s":"50 V/div"}]},
 "mark": {"type": "text", "font": "Liberation Serif", "fontSize": 20, "align": "left", "baseline": "alphabetic", "color": "#111"},
 "encoding": {"x": {"field": "t", "type": "quantitative"}, "y": {"field": "v", "type": "quantitative"}, "text": {"field": "s"}}}
]
}
]
}
